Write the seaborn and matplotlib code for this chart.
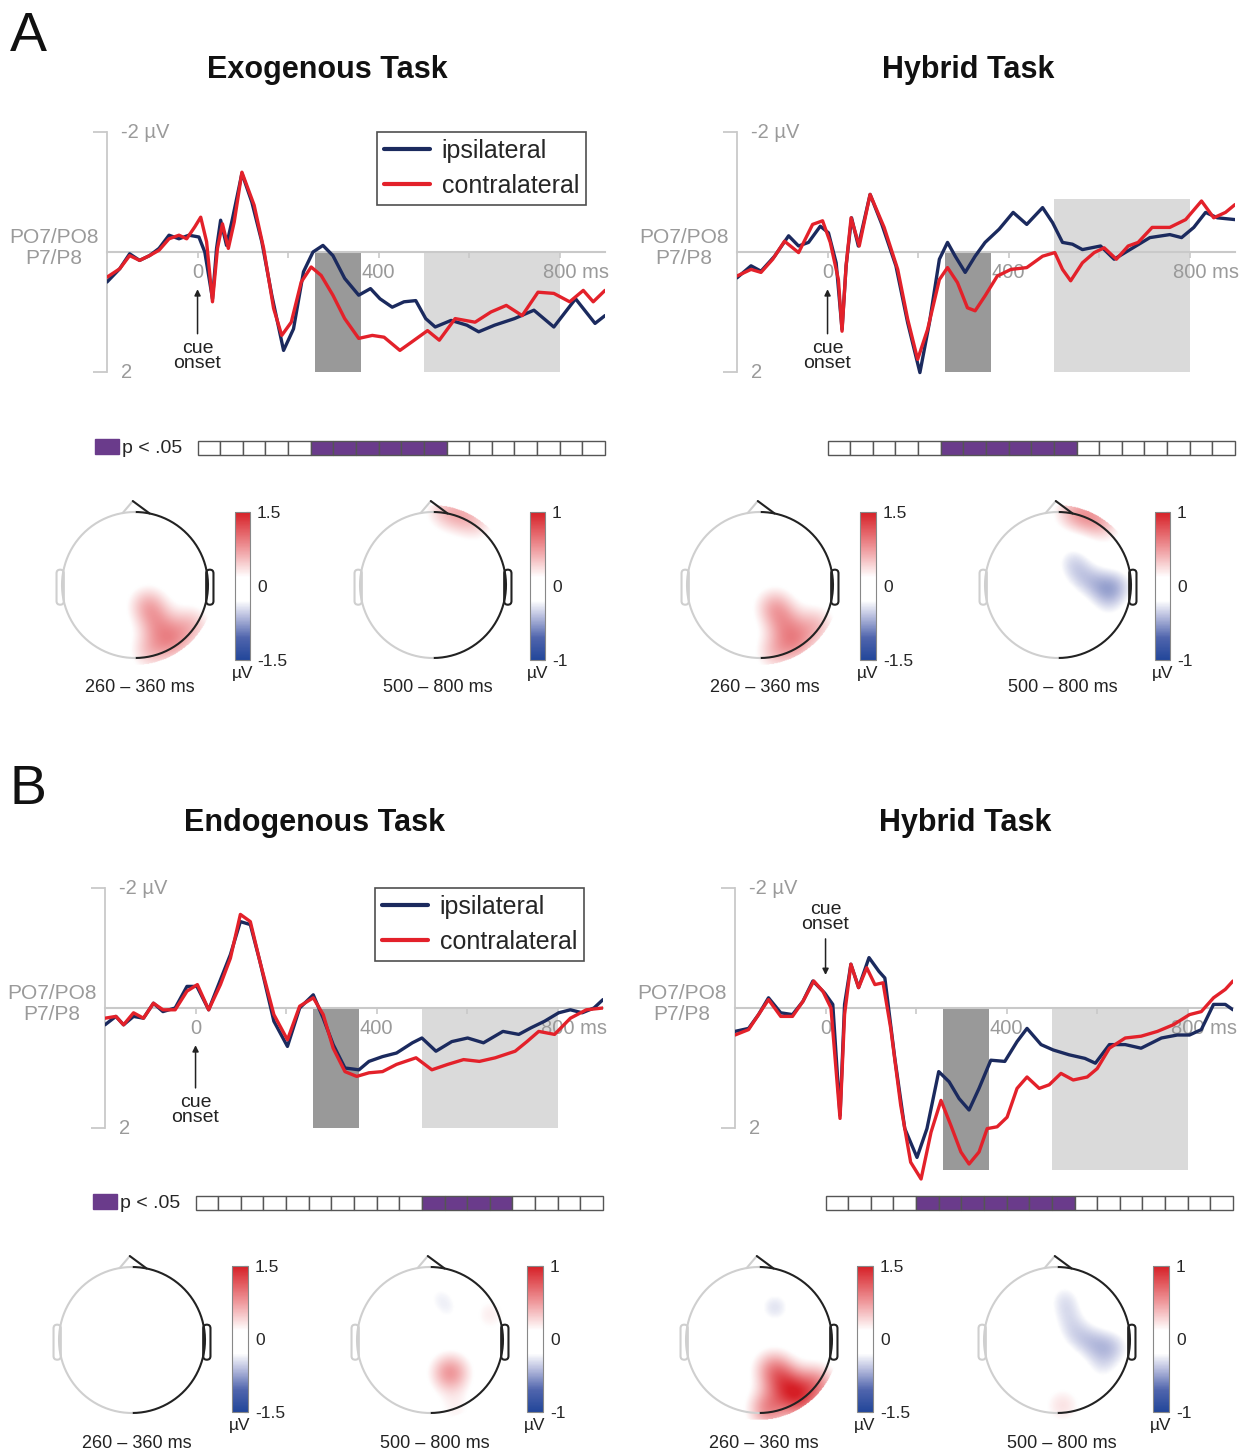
import numpy as np
import matplotlib
matplotlib.use("Agg")
import matplotlib.pyplot as plt
import matplotlib.transforms as mtransforms
from matplotlib.colors import LinearSegmentedColormap
from matplotlib.patches import FancyBboxPatch, Patch
import seaborn as sns

sns.set_style("white")
plt.rcParams["font.family"] = ["Liberation Sans", "DejaVu Sans"]

# ---------------- data ----------------
# Exogenous task (A, left)
exo_ipsi_t = [-200,-172,-150,-128,-106,-85,-63,-41,-19,3,16,33,42,51,64,77,98,120,142,164,190,212,234,255,277,299,325,356,382,403,430,456,482,504,525,560,595,621,656,700,743,787,835,878,900]
exo_ipsi_v = [0.5,0.28,0.03,0.14,0.06,-0.06,-0.28,-0.22,-0.28,-0.25,0.0,0.78,-0.06,-0.53,-0.11,-0.55,-1.31,-0.83,-0.17,0.72,1.64,1.28,0.33,0.0,-0.11,0.06,0.44,0.72,0.61,0.78,0.92,0.83,0.81,1.11,1.25,1.14,1.22,1.33,1.22,1.11,0.97,1.25,0.78,1.19,1.06]
exo_contra_t = [-200,-172,-150,-128,-106,-85,-63,-41,-24,-6,7,20,33,44,55,68,81,98,125,146,168,186,207,229,251,273,299,325,356,386,412,447,473,508,534,569,613,648,682,717,752,787,822,852,874,900]
exo_contra_v = [0.42,0.28,0.06,0.14,0.06,-0.03,-0.22,-0.28,-0.22,-0.42,-0.58,-0.17,0.83,-0.06,-0.47,-0.06,-0.5,-1.33,-0.78,-0.06,0.94,1.39,1.17,0.5,0.25,0.39,0.72,1.11,1.44,1.39,1.42,1.64,1.5,1.31,1.47,1.11,1.17,1.0,0.89,1.06,0.67,0.69,0.83,0.64,0.83,0.64]

# Hybrid task (A, right)
hybA_ipsi_t = [-200,-169,-147,-117,-86,-64,-42,-16,2,19,32,41,53,68,94,120,151,177,204,225,247,265,282,304,326,348,379,410,440,475,497,519,541,563,603,633,668,712,756,782,809,835,861,900]
hybA_ipsi_v = [0.43,0.23,0.32,0.07,-0.27,-0.1,-0.16,-0.43,-0.32,0.18,1.29,0.23,-0.57,-0.1,-0.96,-0.46,0.23,1.18,2.01,1.18,0.12,-0.16,0.07,0.34,0.07,-0.16,-0.38,-0.66,-0.46,-0.74,-0.49,-0.16,-0.13,-0.04,-0.1,0.12,-0.04,-0.24,-0.29,-0.24,-0.41,-0.66,-0.57,-0.54]
hybA_contra_t = [-200,-169,-147,-121,-95,-64,-33,-11,6,24,32,41,52,70,94,125,155,177,199,221,247,265,287,309,326,348,375,405,440,475,502,519,537,563,589,611,638,664,686,717,756,791,826,853,879,900]
hybA_contra_v = [0.4,0.29,0.34,0.12,-0.18,0.01,-0.46,-0.52,-0.16,0.46,1.32,0.23,-0.57,-0.1,-0.96,-0.41,0.29,1.12,1.79,1.29,0.46,0.26,0.51,0.93,0.98,0.73,0.4,0.29,0.26,0.07,0.01,0.29,0.48,0.18,0.01,-0.07,0.12,-0.1,-0.16,-0.41,-0.41,-0.54,-0.85,-0.57,-0.66,-0.79]

# Endogenous task (B, left)
endo_ipsi_t = [-200,-176,-159,-137,-115,-93,-72,-45,-19,3,29,55,77,99,121,142,173,203,230,260,282,304,330,361,383,413,444,479,500,531,566,601,636,679,714,741,771,802,828,854,880,900]
endo_ipsi_v = [0.28,0.14,0.28,0.14,0.17,-0.08,0.06,0.0,-0.36,-0.36,0.03,-0.47,-0.89,-1.44,-1.39,-0.78,0.22,0.64,0.0,-0.22,0.17,0.61,1.0,1.03,0.89,0.81,0.75,0.58,0.5,0.72,0.56,0.5,0.58,0.39,0.44,0.33,0.22,0.08,0.03,0.08,0.0,-0.14]
endo_contra_t = [-200,-176,-159,-137,-115,-93,-72,-45,-19,4,29,55,77,99,121,142,173,203,230,260,282,304,330,356,383,413,444,487,522,557,592,627,662,706,732,758,793,828,863,900]
endo_contra_v = [0.17,0.14,0.28,0.08,0.17,-0.08,0.03,0.03,-0.28,-0.39,0.03,-0.39,-0.83,-1.56,-1.44,-0.78,0.11,0.53,-0.03,-0.17,0.11,0.67,1.06,1.14,1.08,1.06,0.94,0.83,1.03,0.94,0.86,0.89,0.83,0.72,0.56,0.39,0.44,0.17,0.03,0.0]

# Hybrid task (B, right)
hybB_ipsi_t = [-200,-170,-148,-126,-99,-73,-50,-28,-2,16,32,42,56,73,96,118,131,153,175,202,224,250,273,295,317,339,365,396,423,445,476,503,538,573,596,627,662,697,742,777,804,830,857,883,900]
hybB_ipsi_v = [0.39,0.34,0.11,-0.17,0.08,0.11,-0.11,-0.45,-0.25,-0.06,1.79,-0.06,-0.73,-0.34,-0.84,-0.61,-0.5,0.84,2.01,2.49,2.01,1.06,1.23,1.51,1.7,1.34,0.87,0.89,0.56,0.34,0.61,0.7,0.78,0.84,0.92,0.61,0.61,0.67,0.5,0.45,0.45,0.36,-0.06,-0.06,0.03]
hybB_contra_t = [-200,-170,-148,-126,-99,-73,-50,-26,-6,12,32,42,56,73,91,109,127,144,166,188,211,233,255,277,299,317,339,357,379,401,423,445,472,494,520,547,578,600,627,662,697,733,768,804,830,857,883,900]
hybB_contra_v = [0.45,0.36,0.11,-0.14,0.14,0.14,-0.11,-0.45,-0.28,0.0,1.84,0.11,-0.73,-0.34,-0.67,-0.39,-0.42,0.34,1.62,2.57,2.85,2.07,1.54,1.96,2.4,2.6,2.4,2.01,1.98,1.82,1.34,1.15,1.34,1.28,1.09,1.2,1.15,1.01,0.67,0.5,0.47,0.39,0.28,0.11,0.06,-0.17,-0.31,-0.45]

# analysis windows (ms) and shaded amplitude ranges (µV) per panel
win_early = [260, 360]
win_late = [500, 800]
exo_shade = [(0, 2), (0, 2)]
hybA_shade = [(0, 2), (-0.88, 2)]
endo_shade = [(0, 2), (0, 2)]
hybB_shade = [(0, 2.7), (0, 2.7)]

# significance (18 bins of 50 ms, 0-900 ms)
sig_exo = [0,0,0,0,0,1,1,1,1,1,1,0,0,0,0,0,0,0]
sig_hybA = [0,0,0,0,0,1,1,1,1,1,1,0,0,0,0,0,0,0]
sig_endo = [0,0,0,0,0,0,0,0,0,0,1,1,1,1,0,0,0,0]
sig_hybB = [0,0,0,0,1,1,1,1,1,1,1,0,0,0,0,0,0,0]
sig_bin_ms = 50

# topographic sources: (x, y, amplitude µV), head radius = 1
topo_exo_early = [(0.18,-0.28,0.55),(0.32,-0.55,0.45),(0.52,-0.78,0.55),(0.78,-0.55,0.45),(0.2,-0.92,0.42)]
topo_exo_late = [(0.15,1.02,0.25),(0.4,0.97,0.25),(0.62,0.85,0.2)]
topo_hybA_early = [(0.2,-0.3,0.55),(0.35,-0.55,0.45),(0.5,-0.8,0.55),(0.78,-0.55,0.45),(0.2,-0.93,0.42)]
topo_hybA_late = [(0.2,1.0,0.3),(0.45,0.95,0.3),(0.65,0.82,0.22),(0.2,0.35,-0.22),(0.3,0.12,-0.18),(0.5,0.02,-0.16),(0.68,-0.05,-0.2),(0.85,0.0,-0.2),(0.7,-0.3,-0.15)]
topo_endo_early = []
topo_endo_late = [(0.12,0.62,-0.17),(0.28,0.38,-0.16),(0.28,-0.45,0.5),(0.82,0.35,0.18),(0.35,-0.95,0.15)]
topo_hybB_early = [(0.22,0.45,-0.42),(0.2,-0.4,0.7),(0.38,-0.62,0.75),(0.55,-0.82,0.85),(0.8,-0.6,0.7),(0.12,-0.95,0.75)]
topo_hybB_late = [(0.1,0.6,-0.2),(0.15,0.35,-0.16),(0.22,0.1,-0.17),(0.42,-0.02,-0.19),(0.65,-0.08,-0.2),(0.85,-0.1,-0.16),(0.62,-0.4,-0.18),(0.08,-0.9,0.22)]

win_labels = ["260 \u2013 360 ms", "500 \u2013 800 ms"]
titles = ["Exogenous Task", "Hybrid Task", "Endogenous Task", "Hybrid Task"]

# ---------------- style ----------------
W, H = 1246, 1451
NAVY = "#1b2a5e"
RED = "#e3212a"
AXGRAY = "#c9c9c9"
TXTGRAY = "#9a9a9a"
PURPLE = "#6a3b8b"
DARKSH = "#999999"
LIGHTSH = "#dadada"

fig = plt.figure(figsize=(W / 100, H / 100), dpi=100)


def frect(x0, y0, x1, y1):
    return [x0 / W, 1 - y1 / H, (x1 - x0) / W, (y1 - y0) / H]


PXMS = 498 / 1100.0
PXUV = 60.0


def erp_panel(x0, zero_y, ipsi, contra, shade, legend, cue_xy, cue_text):
    ax = fig.add_axes(frect(x0, zero_y - 2.2 * PXUV, x0 + 1100 * PXMS, zero_y + 3.0 * PXUV))
    ax.set_xlim(-200, 900)
    ax.set_ylim(3.0, -2.2)
    ax.patch.set_alpha(0)
    ax.set_axisbelow(False)
    for s in ["top", "right"]:
        ax.spines[s].set_visible(False)
    ax.spines["left"].set_bounds(-2, 2)
    ax.spines["left"].set_color(AXGRAY)
    ax.spines["left"].set_linewidth(1.3)
    ax.spines["bottom"].set_position(("data", 0))
    ax.spines["bottom"].set_color(AXGRAY)
    ax.spines["bottom"].set_linewidth(1.5)
    ax.set_yticks([-2, 2])
    ax.set_yticklabels([])
    ax.tick_params(axis="y", direction="out", length=10, color=AXGRAY, width=1.3, left=True)
    ax.set_xticks([0, 200, 400, 600, 800])
    ax.set_xticklabels(["0", "", "400", "", "800 ms"])
    ax.tick_params(axis="x", direction="out", length=4, color=AXGRAY, width=1.2,
                   labelsize=14.5, labelcolor=TXTGRAY, pad=4, bottom=True)
    lab = ax.get_xticklabels()[-1]
    lab.set_ha("left")
    lab.set_transform(lab.get_transform() + mtransforms.ScaledTranslation(-17 / 100, 0, fig.dpi_scale_trans))
    # shaded windows
    for (lo, hi), (b, t), col in zip([win_early, win_late], shade, [DARKSH, LIGHTSH]):
        ax.bar((lo + hi) / 2, t - b, width=hi - lo, bottom=b, color=col, linewidth=0, zorder=1)
    sns.lineplot(x=ipsi[0], y=ipsi[1], ax=ax, color=NAVY, linewidth=2.4, label="ipsilateral",
                 legend=False, zorder=3)
    sns.lineplot(x=contra[0], y=contra[1], ax=ax, color=RED, linewidth=2.4, label="contralateral",
                 legend=False, zorder=4)
    ax.set_xlabel("")
    ax.set_ylabel("")
    ax.text(-168, -2, "-2 \u00b5V", ha="left", va="center", fontsize=14.5, color=TXTGRAY)
    ax.text(-168, 2, "2", ha="left", va="center", fontsize=14.5, color=TXTGRAY)
    ax.text(-318, -0.07, "PO7/PO8\nP7/P8", ha="center", va="center", multialignment="center",
            fontsize=15, color=TXTGRAY, linespacing=1.15, clip_on=False)
    ax.annotate("cue\nonset", xy=(0, cue_xy), xytext=(0, cue_text), ha="center", va="center",
                fontsize=14, color="#222222", linespacing=0.85,
                arrowprops=dict(arrowstyle="-|>", color="#222222", lw=1.1, shrinkA=2, shrinkB=0,
                                mutation_scale=9))
    if legend:
        leg = ax.legend(loc="upper right", bbox_to_anchor=(0.962, 0.963), fontsize=18,
                        frameon=True, fancybox=False, handlelength=1.85, handletextpad=0.45,
                        labelspacing=0.45, borderpad=0.28, borderaxespad=0)
        leg.get_frame().set_edgecolor("#222222")
        leg.get_frame().set_linewidth(1.2)
        for ln in leg.get_lines():
            ln.set_linewidth(3)
    else:
        if ax.get_legend() is not None:
            ax.get_legend().remove()
    return ax


def sig_panel(x_zero, y_top, sig, legend):
    ax = fig.add_axes(frect(x_zero, y_top, x_zero + 900 * PXMS, y_top + 14))
    starts = np.arange(len(sig)) * sig_bin_ms
    cols = [PURPLE if s else "white" for s in sig]
    ax.bar(starts, [1] * len(sig), width=sig_bin_ms, align="edge", color=cols,
           edgecolor="#555555", linewidth=1.0, clip_on=False)
    ax.set_xlim(0, 900)
    ax.set_ylim(0, 1)
    ax.axis("off")
    if legend:
        ax.legend(handles=[Patch(facecolor=PURPLE, edgecolor=PURPLE)], labels=["p < .05"],
                  loc="center right", bbox_to_anchor=(-0.037, 0.5), frameon=False, fontsize=14,
                  handlelength=1.25, handleheight=0.8, handletextpad=0.15, borderpad=0,
                  borderaxespad=0)


cmap = LinearSegmentedColormap.from_list(
    "topo", [(0.0, "#22469a"), (0.15, "#5065ad"), (0.30, "#bcc1e0"), (0.40, "#ffffff"),
             (0.56, "#ffffff"), (0.75, "#ef9a9d"), (1.0, "#d61f26")])
cmap.set_bad((1, 1, 1, 0))

grid = np.linspace(-1.15, 1.15, 241)
GX, GY = np.meshgrid(grid, grid)
GR = np.sqrt(GX ** 2 + GY ** 2)


def topo(cx, cy, sources, vlim, cbar_rect, label):
    r = 73
    s = 1.22 * r
    ax = fig.add_axes(frect(cx - s, cy - s, cx + s, cy + s))
    field = np.zeros_like(GX)
    for (sx, sy, a) in sources:
        field += a * np.exp(-((GX - sx) ** 2 + (GY - sy) ** 2) / (2 * 0.19 ** 2))
    field = np.ma.masked_where(GR > 1.1, field)
    im = ax.imshow(field, extent=(-1.15, 1.15, -1.15, 1.15), origin="lower", cmap=cmap,
                   vmin=-vlim, vmax=vlim, interpolation="bilinear", zorder=1)
    th = np.linspace(-np.pi / 2, np.pi / 2, 200)
    ax.plot(np.cos(th), np.sin(th), color="#222222", lw=1.5, zorder=3)
    th = np.linspace(np.pi / 2, 3 * np.pi / 2, 200)
    ax.plot(np.cos(th), np.sin(th), color="#cfcfcf", lw=1.5, zorder=3)
    ax.plot([-0.17, -0.03], [0.985, 1.15], color="#cfcfcf", lw=1.5, zorder=3)
    ax.plot([-0.03, 0.2], [1.15, 0.98], color="#222222", lw=1.5, zorder=3)
    ax.add_patch(FancyBboxPatch((0.975, -0.27), 0.1, 0.48, boxstyle="round,pad=0,rounding_size=0.05",
                                fill=False, edgecolor="#222222", lw=1.5, zorder=3))
    ax.add_patch(FancyBboxPatch((-1.075, -0.27), 0.1, 0.48, boxstyle="round,pad=0,rounding_size=0.05",
                                fill=False, edgecolor="#cfcfcf", lw=1.5, zorder=3))
    ax.set_xlim(-1.22, 1.22)
    ax.set_ylim(-1.22, 1.22)
    ax.set_aspect("equal")
    ax.axis("off")
    cax = fig.add_axes(frect(*cbar_rect))
    cb = fig.colorbar(im, cax=cax)
    ticks = [-vlim, -vlim / 2, 0, vlim / 2, vlim] if vlim == 1 else [-1.5, -1, -0.5, 0, 0.5, 1, 1.5]
    cb.set_ticks(ticks)
    lbl = {1: "1", -1: "-1", 1.5: "1.5", -1.5: "-1.5", 0: "0"}
    cb.set_ticklabels([lbl.get(t, "") if t in (-vlim, 0, vlim) else "" for t in ticks])
    cax.tick_params(direction="in", length=3, width=0.8, color="#777777", labelsize=12.5, pad=5)
    cb.outline.set_edgecolor("#888888")
    cb.outline.set_linewidth(0.8)
    cax.text(0.5, -0.04, "\u00b5V", transform=cax.transAxes, ha="center", va="top", fontsize=12.5,
             color="#222222")
    fig.text((cx + 5) / W, 1 - (cy + 103) / H, label, ha="center", va="center", fontsize=13,
             color="#222222")


# ---------------- panel letters & titles ----------------
fig.text(10 / W, 1 - 11 / H, "A", ha="left", va="top", fontsize=40, color="#111111")
fig.text(10 / W, 1 - 764 / H, "B", ha="left", va="top", fontsize=40, color="#111111")
for t, (x, y) in zip(titles, [(327, 70), (968, 70), (315, 823), (965, 823)]):
    fig.text(x / W, 1 - y / H, t, ha="center", va="center", fontsize=22, fontweight="bold",
             color="#111111")

# ---------------- ERP panels ----------------
erp_panel(107, 252, (exo_ipsi_t, exo_ipsi_v), (exo_contra_t, exo_contra_v), exo_shade, True, 0.62, 1.73)
erp_panel(737, 252, (hybA_ipsi_t, hybA_ipsi_v), (hybA_contra_t, hybA_contra_v), hybA_shade, False, 0.62, 1.73)
erp_panel(105, 1008, (endo_ipsi_t, endo_ipsi_v), (endo_contra_t, endo_contra_v), endo_shade, True, 0.62, 1.7)
erp_panel(735, 1008, (hybB_ipsi_t, hybB_ipsi_v), (hybB_contra_t, hybB_contra_v), hybB_shade, False, -0.55, -1.52)

# ---------------- significance strips ----------------
sig_panel(107 + 200 * PXMS, 441, sig_exo, True)
sig_panel(737 + 200 * PXMS, 441, sig_hybA, False)
sig_panel(105 + 200 * PXMS, 1196, sig_endo, True)
sig_panel(735 + 200 * PXMS, 1196, sig_hybB, False)

# ---------------- topographic maps ----------------
topo(135, 585, topo_exo_early, 1.5, (235, 512, 250, 660), win_labels[0])
topo(433, 585, topo_exo_late, 1, (530, 512, 545, 660), win_labels[1])
topo(760, 585, topo_hybA_early, 1.5, (860, 512, 876, 660), win_labels[0])
topo(1058, 585, topo_hybA_late, 1, (1155, 512, 1170, 660), win_labels[1])
topo(132, 1340, topo_endo_early, 1.5, (232, 1266, 248, 1412), win_labels[0])
topo(430, 1340, topo_endo_late, 1, (527, 1266, 543, 1412), win_labels[1])
topo(759, 1340, topo_hybB_early, 1.5, (857, 1266, 873, 1412), win_labels[0])
topo(1057, 1340, topo_hybB_late, 1, (1153, 1266, 1169, 1412), win_labels[1])

fig.savefig("out.png", dpi=100)
